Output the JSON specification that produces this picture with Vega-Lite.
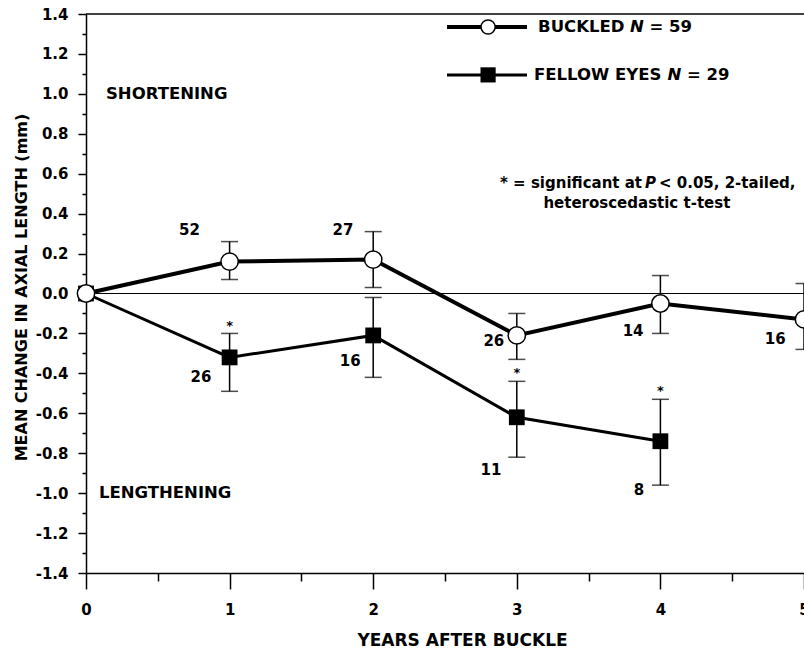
{
  "$schema": "https://vega.github.io/schema/vega-lite/v6.json",
  "width": 718,
  "height": 559,
  "autosize": {"type": "none"},
  "padding": {"left": 86, "top": 14, "right": 0, "bottom": 76},
  "background": "white",
  "config": {
    "view": {"stroke": null},
    "font": "DejaVu Sans",
    "axis": {
      "domainColor": "black", "domainWidth": 1.5, "tickColor": "black", "tickWidth": 1.5,
      "labelColor": "black", "labelFont": "DejaVu Sans", "labelFontWeight": "bold", "labelFontSize": 15,
      "labelOverlap": false, "labelBound": false, "labelFlush": false,
      "titleColor": "black", "titleFont": "DejaVu Sans", "titleFontWeight": "bold", "grid": false
    }
  },
  "datasets": {
    "pts": [
      {"series": "Buckled", "year": 0, "value": 0, "lo": null, "hi": null},
      {"series": "Buckled", "year": 1, "value": 0.16, "lo": 0.07, "hi": 0.26},
      {"series": "Buckled", "year": 2, "value": 0.17, "lo": 0.03, "hi": 0.31},
      {"series": "Buckled", "year": 3, "value": -0.21, "lo": -0.33, "hi": -0.10},
      {"series": "Buckled", "year": 4, "value": -0.05, "lo": -0.20, "hi": 0.09},
      {"series": "Buckled", "year": 5, "value": -0.13, "lo": -0.28, "hi": 0.05},
      {"series": "Fellow", "year": 0, "value": 0, "lo": null, "hi": null},
      {"series": "Fellow", "year": 1, "value": -0.32, "lo": -0.49, "hi": -0.20},
      {"series": "Fellow", "year": 2, "value": -0.21, "lo": -0.42, "hi": -0.02},
      {"series": "Fellow", "year": 3, "value": -0.62, "lo": -0.82, "hi": -0.44},
      {"series": "Fellow", "year": 4, "value": -0.74, "lo": -0.96, "hi": -0.53}
    ],
    "labels": [
      {"year": 0.72, "value": 0.32, "text": "52"},
      {"year": 1.79, "value": 0.32, "text": "27"},
      {"year": 2.84, "value": -0.24, "text": "26"},
      {"year": 3.81, "value": -0.19, "text": "14"},
      {"year": 4.80, "value": -0.23, "text": "16"},
      {"year": 0.80, "value": -0.42, "text": "26"},
      {"year": 1.84, "value": -0.34, "text": "16"},
      {"year": 2.82, "value": -0.885, "text": "11"},
      {"year": 3.85, "value": -0.985, "text": "8"}
    ],
    "stars": [
      {"year": 1, "value": -0.165},
      {"year": 3, "value": -0.40},
      {"year": 4, "value": -0.49}
    ]
  },
  "layer": [
    {
      "layer": [
        {
          "data": {"values": [{}]},
          "mark": {"type": "rule", "color": "black", "strokeWidth": 1.5},
          "encoding": {"y": {"datum": 1.4, "type": "quantitative", "axis": null, "scale": {"domain": [-1.4, 1.4], "nice": false, "zero": false}}}
        },
        {
          "data": {"values": [{}]},
          "mark": {"type": "rule", "color": "black", "strokeWidth": 1},
          "encoding": {"y": {"datum": 0, "type": "quantitative", "axis": null}}
        },
        {
          "data": {"name": "pts"},
          "transform": [{"filter": "isValid(datum.lo)"}],
          "mark": {"type": "errorbar", "ticks": {"size": 17}, "thickness": 1.5, "color": "black"},
          "encoding": {
            "x": {"field": "year", "type": "quantitative", "axis": null, "scale": {"domain": [0, 5], "nice": false, "zero": false}},
            "y": {"field": "lo", "type": "quantitative", "axis": null},
            "y2": {"field": "hi"}
          }
        },
        {
          "data": {"name": "pts"},
          "transform": [{"filter": "datum.series == 'Fellow'"}],
          "mark": {"type": "line", "color": "black", "strokeWidth": 3},
          "encoding": {
            "x": {"field": "year", "type": "quantitative", "axis": null},
            "y": {"field": "value", "type": "quantitative", "axis": null}
          }
        },
        {
          "data": {"name": "pts"},
          "transform": [{"filter": "datum.series == 'Buckled'"}],
          "mark": {"type": "line", "color": "black", "strokeWidth": 4},
          "encoding": {
            "x": {"field": "year", "type": "quantitative", "axis": null},
            "y": {"field": "value", "type": "quantitative", "axis": null}
          }
        },
        {
          "data": {"name": "pts"},
          "transform": [{"filter": "datum.series == 'Fellow'"}],
          "mark": {"type": "point", "shape": "square", "filled": true, "color": "black", "size": 250, "opacity": 1},
          "encoding": {
            "x": {"field": "year", "type": "quantitative", "axis": null},
            "y": {"field": "value", "type": "quantitative", "axis": null}
          }
        },
        {
          "data": {"name": "pts"},
          "transform": [{"filter": "datum.series == 'Buckled'"}],
          "mark": {"type": "point", "shape": "circle", "filled": true, "fill": "white", "stroke": "black", "strokeWidth": 1.5, "size": 300, "opacity": 1},
          "encoding": {
            "x": {"field": "year", "type": "quantitative", "axis": null},
            "y": {"field": "value", "type": "quantitative", "axis": null}
          }
        },
        {
          "data": {"name": "labels"},
          "mark": {"type": "text", "font": "DejaVu Sans", "fontWeight": "bold", "fontSize": 15, "color": "black", "baseline": "middle", "align": "center"},
          "encoding": {
            "x": {"field": "year", "type": "quantitative", "axis": null},
            "y": {"field": "value", "type": "quantitative", "axis": null},
            "text": {"field": "text"}
          }
        },
        {
          "data": {"name": "stars"},
          "mark": {"type": "text", "font": "DejaVu Sans", "fontWeight": "bold", "fontSize": 13, "color": "black", "baseline": "middle", "align": "center", "text": "*"},
          "encoding": {
            "x": {"field": "year", "type": "quantitative", "axis": null},
            "y": {"field": "value", "type": "quantitative", "axis": null}
          }
        },
        {
          "data": {"values": [{}]},
          "mark": {"type": "rule", "color": "black", "strokeWidth": 4},
          "encoding": {"x": {"datum": 2.514, "axis": null}, "x2": {"datum": 3.071}, "y": {"datum": 1.335, "axis": null}}
        },
        {
          "data": {"values": [{}]},
          "mark": {"type": "point", "shape": "circle", "filled": true, "fill": "white", "stroke": "black", "strokeWidth": 1.5, "size": 200, "opacity": 1},
          "encoding": {"x": {"datum": 2.80, "axis": null}, "y": {"datum": 1.335, "axis": null}}
        },
        {
          "data": {"values": [{}]},
          "mark": {"type": "rule", "color": "black", "strokeWidth": 3},
          "encoding": {"x": {"datum": 2.514, "axis": null}, "x2": {"datum": 3.071}, "y": {"datum": 1.095, "axis": null}}
        },
        {
          "data": {"values": [{}]},
          "mark": {"type": "point", "shape": "square", "filled": true, "color": "black", "size": 230, "opacity": 1},
          "encoding": {"x": {"datum": 2.80, "axis": null}, "y": {"datum": 1.095, "axis": null}}
        },
        {
          "data": {"values": [{}]},
          "mark": {"type": "text", "fontWeight": "bold", "fontSize": 16.5, "color": "black", "baseline": "middle", "align": "left", "text": "BUCKLED"},
          "encoding": {"x": {"datum": 3.148, "axis": null}, "y": {"datum": 1.335, "axis": null}}
        },
        {
          "data": {"values": [{}]},
          "mark": {"type": "text", "fontWeight": "bold", "fontStyle": "italic", "fontSize": 16.5, "color": "black", "baseline": "middle", "align": "left", "text": "N"},
          "encoding": {"x": {"datum": 3.788, "axis": null}, "y": {"datum": 1.335, "axis": null}}
        },
        {
          "data": {"values": [{}]},
          "mark": {"type": "text", "fontWeight": "bold", "fontSize": 16.5, "color": "black", "baseline": "middle", "align": "left", "text": "= 59"},
          "encoding": {"x": {"datum": 3.924, "axis": null}, "y": {"datum": 1.335, "axis": null}}
        },
        {
          "data": {"values": [{}]},
          "mark": {"type": "text", "fontWeight": "bold", "fontSize": 16.5, "color": "black", "baseline": "middle", "align": "left", "text": "FELLOW EYES"},
          "encoding": {"x": {"datum": 3.120, "axis": null}, "y": {"datum": 1.095, "axis": null}}
        },
        {
          "data": {"values": [{}]},
          "mark": {"type": "text", "fontWeight": "bold", "fontStyle": "italic", "fontSize": 16.5, "color": "black", "baseline": "middle", "align": "left", "text": "N"},
          "encoding": {"x": {"datum": 4.050, "axis": null}, "y": {"datum": 1.095, "axis": null}}
        },
        {
          "data": {"values": [{}]},
          "mark": {"type": "text", "fontWeight": "bold", "fontSize": 16.5, "color": "black", "baseline": "middle", "align": "left", "text": "= 29"},
          "encoding": {"x": {"datum": 4.185, "axis": null}, "y": {"datum": 1.095, "axis": null}}
        },
        {
          "data": {"values": [{}]},
          "mark": {"type": "text", "fontWeight": "bold", "fontSize": 16.5, "color": "black", "baseline": "middle", "align": "left", "text": "SHORTENING"},
          "encoding": {"x": {"datum": 0.139, "axis": null}, "y": {"datum": 1.0, "axis": null}}
        },
        {
          "data": {"values": [{}]},
          "mark": {"type": "text", "fontWeight": "bold", "fontSize": 16.5, "color": "black", "baseline": "middle", "align": "left", "text": "LENGTHENING"},
          "encoding": {"x": {"datum": 0.09, "axis": null}, "y": {"datum": -1.0, "axis": null}}
        },
        {
          "data": {"values": [{}]},
          "mark": {"type": "text", "fontWeight": "bold", "fontSize": 15, "color": "black", "baseline": "middle", "align": "right", "text": "* = significant at"},
          "encoding": {"x": {"datum": 3.872, "axis": null}, "y": {"datum": 0.553, "axis": null}}
        },
        {
          "data": {"values": [{}]},
          "mark": {"type": "text", "fontWeight": "bold", "fontStyle": "italic", "fontSize": 15, "color": "black", "baseline": "middle", "align": "left", "text": "P"},
          "encoding": {"x": {"datum": 3.893, "axis": null}, "y": {"datum": 0.553, "axis": null}}
        },
        {
          "data": {"values": [{}]},
          "mark": {"type": "text", "fontWeight": "bold", "fontSize": 15, "color": "black", "baseline": "middle", "align": "left", "text": "< 0.05, 2-tailed,"},
          "encoding": {"x": {"datum": 3.990, "axis": null}, "y": {"datum": 0.553, "axis": null}}
        },
        {
          "data": {"values": [{}]},
          "mark": {"type": "text", "fontWeight": "bold", "fontSize": 15, "color": "black", "baseline": "middle", "align": "center", "text": "heteroscedastic t-test"},
          "encoding": {"x": {"datum": 3.836, "axis": null}, "y": {"datum": 0.453, "axis": null}}
        }
      ]
    },
    {
      "data": {"name": "pts"},
      "mark": {"type": "point", "opacity": 0},
      "encoding": {
        "x": {
          "field": "year", "type": "quantitative",
          "scale": {"domain": [0, 5], "nice": false, "zero": false},
          "axis": {
            "orient": "bottom", "values": [0, 1, 2, 3, 4, 5], "tickSize": 16, "labelPadding": 13,
            "labelOverlap": false, "format": "d", "title": "YEARS AFTER BUCKLE", "titleFontSize": 17,
            "titleX": 376, "titleY": 67, "titleBaseline": "middle", "titleAlign": "center"
          }
        },
        "y": {
          "field": "value", "type": "quantitative",
          "scale": {"domain": [-1.4, 1.4], "nice": false, "zero": false},
          "axis": {
            "orient": "left",
            "values": [-1.4, -1.2, -1.0, -0.8, -0.6, -0.4, -0.2, 0, 0.2, 0.4, 0.6, 0.8, 1.0, 1.2, 1.4],
            "tickSize": 8, "labelPadding": 10, "labelOverlap": false,
            "labelExpr": "replace(format(datum.value, '.1f'), '\u2212', '-')",
            "title": "MEAN CHANGE IN AXIAL LENGTH (mm)", "titleFontSize": 16,
            "titleX": -65, "titleY": 273, "titleAngle": -90, "titleBaseline": "middle", "titleAlign": "center"
          }
        }
      }
    },
    {
      "data": {"name": "pts"},
      "mark": {"type": "point", "opacity": 0},
      "encoding": {
        "x": {
          "field": "year", "type": "quantitative",
          "axis": {"orient": "bottom", "values": [0.5, 1.5, 2.5, 3.5, 4.5], "tickSize": 8, "labels": false, "domain": false, "title": null}
        },
        "y": {
          "field": "value", "type": "quantitative",
          "axis": {"orient": "left", "values": [-1.3, -1.1, -0.9, -0.7, -0.5, -0.3, -0.1, 0.1, 0.3, 0.5, 0.7, 0.9, 1.1, 1.3], "tickSize": 4, "labels": false, "domain": false, "title": null}
        }
      }
    }
  ],
  "resolve": {"axis": {"x": "independent", "y": "independent"}}
}
